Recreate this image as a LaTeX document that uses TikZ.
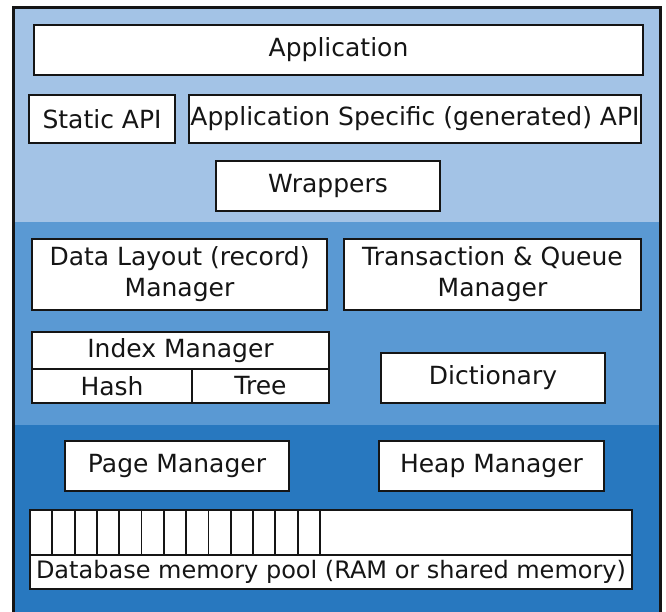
\documentclass[tikz,border=0pt]{standalone}
\usepackage{fontspec}
\setmainfont{DejaVu Sans}
\usepackage{tikz}
\usetikzlibrary{positioning}
\definecolor{bandlight}{HTML}{A3C3E6}
\definecolor{bandmid}{HTML}{5A99D3}
\definecolor{banddark}{HTML}{2878BF}
\definecolor{inkgray}{HTML}{151515}

\begin{document}
\begin{tikzpicture}[x=1pt, y=-1pt,
    blk/.style={draw=inkgray, fill=white, line width=1.8pt, inner sep=0pt, outer sep=0pt,
                font=\fontsize{25}{31}\selectfont, text=inkgray, align=center},
    slot/.style={draw=inkgray, line width=1.8pt},
]
    \clip (0,0) rectangle (666,612);

    % the three layers
    \fill[bandlight] (13,8) rectangle (660,222);
    \fill[bandmid] (13,222) rectangle (660,425);
    \fill[banddark] (13,425) rectangle (660,640);
    \draw[inkgray, line width=3pt] (13,8) rectangle (660,640);

    \node[blk, minimum width=609pt, minimum height=50pt] (app) at (338.5,50) {Application};
    \node[blk, minimum width=146pt, minimum height=48pt] (sapi) at (102,119) {Static API};
    \node[blk, minimum width=452pt, minimum height=48pt] (gapi) at (415,119) {Application Specific (generated) API};
    \node[blk, minimum width=224pt, minimum height=50pt] (wrap) at (328,186) {Wrappers};

    \node[blk, minimum width=295pt, minimum height=71pt] (dlm) at (179.5,274.5) {Data Layout (record)\\Manager};
    \node[blk, minimum width=297pt, minimum height=71pt] (tqm) at (492.5,274.5) {Transaction \& Queue\\Manager};

    \node[blk, minimum width=297pt, minimum height=37pt] (idx) at (180.5,350.5) {Index Manager};
    \node[blk, minimum width=160pt, minimum height=34pt] (hash) at (112,386) {Hash};
    \node[blk, minimum width=137pt, minimum height=34pt] (tree) at (260.5,386) {Tree};
    \node[blk, minimum width=224pt, minimum height=50pt] (dict) at (493,378) {Dictionary};

    \node[blk, minimum width=224pt, minimum height=50pt] (pgm) at (177,466) {Page Manager};
    \node[blk, minimum width=225pt, minimum height=50pt] (hpm) at (491.5,466) {Heap Manager};

    % memory pool with its pages
    \node[blk, minimum width=602pt, minimum height=45pt] (slots) at (331,532.5) {};
    \node[blk, minimum width=602pt, minimum height=34pt, font=\fontsize{24}{28}\selectfont] (pool) at (331,572) {Database memory pool (RAM or shared memory)};
    \foreach \i in {1,...,13}
        \draw[slot] (30+\i*22.3,510) -- (30+\i*22.3,555);
\end{tikzpicture}
\end{document}
